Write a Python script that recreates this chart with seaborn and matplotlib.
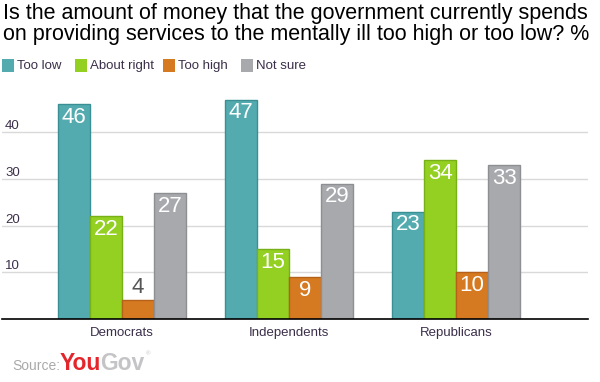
import matplotlib
matplotlib.use("Agg")
import matplotlib.pyplot as plt
import seaborn as sns
import pandas as pd
from matplotlib.patches import Rectangle
import matplotlib.transforms as mtransforms

groups = ["Democrats", "Independents", "Republicans"]
answers = ["Too low", "About right", "Too high", "Not sure"]
too_low = [46, 47, 23]
about_right = [22, 15, 34]
too_high = [4, 9, 10]
not_sure = [27, 29, 33]
yticks = [10, 20, 30, 40]

colors = ["#53ABB0", "#93D022", "#D67A22", "#A8A9AD"]
edges = ["#3A8F94", "#78B017", "#B5611A", "#8E8F93"]

sns.set_style("white")
plt.rcParams["font.family"] = ["Liberation Sans", "DejaVu Sans"]

series = [too_low, about_right, too_high, not_sure]
rows = []
for a, vals in zip(answers, series):
    for g, v in zip(groups, vals):
        rows.append({"group": g, "answer": a, "value": v})
df = pd.DataFrame(rows)

fig = plt.figure(figsize=(6, 3.82), dpi=100)
ax = fig.add_axes([2/600, 1 - 319/382, 586/600, (319 - 85.5)/382])

sns.barplot(data=df, x="group", y="value", hue="answer", hue_order=answers,
            order=groups, palette=colors, width=0.766, ax=ax, legend=False,
            saturation=1, linewidth=1)

for cont, ec in zip(ax.containers, edges):
    for p in cont.patches:
        p.set_edgecolor(ec)
        p.set_linewidth(1)
    for p, v in zip(cont.patches, cont.datavalues):
        x = p.get_x() + p.get_width() / 2
        if v >= 6:
            ax.annotate(f"{v:g}", (x, v), xytext=(0, -2), textcoords="offset points",
                        ha="center", va="top", color="white", fontsize=16)
        else:
            ax.annotate(f"{v:g}", (x, v), xytext=(0, 2), textcoords="offset points",
                        ha="center", va="bottom", color="#555555", fontsize=16)

ax.set_xlim(-0.719, 2.79)
ax.set_ylim(0, 50)
ax.set_yticks(yticks)
ax.set_yticklabels([])
ax.tick_params(axis="y", length=0)
ax.tick_params(axis="x", length=0, pad=6, labelsize=9.5, labelcolor="#3b2f4a")
ax.set_xlabel("")
ax.set_ylabel("")
ax.yaxis.grid(True, color="#D9D9D9", linewidth=1)
ax.set_axisbelow(True)
for s in ["top", "right", "left"]:
    ax.spines[s].set_visible(False)
ax.spines["bottom"].set_color("black")
ax.spines["bottom"].set_linewidth(1.2)

trans = mtransforms.blended_transform_factory(ax.transAxes, ax.transData)
for t in yticks:
    ax.text(3/586, t, f"{t}", transform=trans, ha="left", va="bottom",
            fontsize=9.5, color="#3b2f4a")

# title
fig.text(3/600, 1 - 3/382, "Is the amount of money that the government currently spends\non providing services to the mentally ill too high or too low? %",
         ha="left", va="top", fontsize=15.5, color="black", linespacing=1.0)

# legend
leg_x = [2, 75, 163, 241]
for lx, lab, c in zip(leg_x, answers, colors):
    fig.patches.append(Rectangle((lx/600, 1 - 72/382), 12/600, 13/382,
                                 transform=fig.transFigure, facecolor=c, edgecolor="none"))
    fig.text((lx + 15)/600, 1 - 66/382, lab, ha="left", va="center",
             fontsize=9.5, color="#3b2f4a")

# source
fig.text(12/600, 1 - 366/382, "Source:", ha="left", va="center", fontsize=10, color="#AAAAAA")
t1 = fig.text(60/600, 1 - 363/382, "You", ha="left", va="center", fontsize=16.5,
              fontweight="bold", color="#E4262C")
fig.canvas.draw()
bb = t1.get_window_extent()
fig.text(bb.x1/600 - 1/600, 1 - 363/382, "Gov", ha="left", va="center", fontsize=16.5,
         fontweight="bold", color="#C4C4C6")
fig.text(146/600, 1 - 354/382, "®", ha="left", va="center", fontsize=4.5, color="#C4C4C6")

fig.savefig("out.png", dpi=100)
